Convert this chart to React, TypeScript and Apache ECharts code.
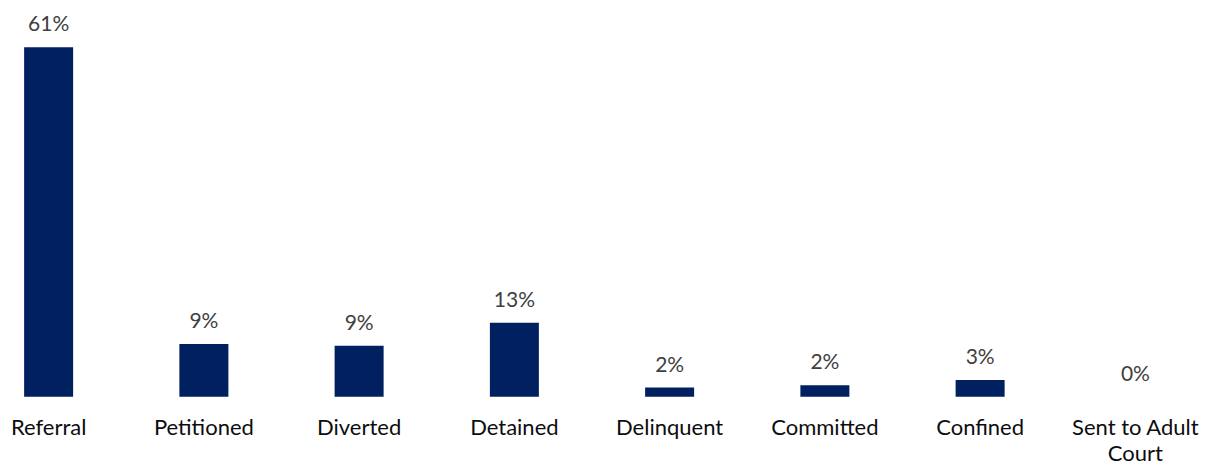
import React, { useEffect, useRef } from "react";
import * as echarts from "echarts";

const categories = [
  "Referral",
  "Petitioned",
  "Diverted",
  "Detained",
  "Delinquent",
  "Committed",
  "Confined",
  "Sent to Adult\nCourt",
];
const values = [61, 9.2, 8.9, 12.9, 1.6, 2.0, 2.9, 0];

export default function App() {
  const ref = useRef<HTMLDivElement>(null);
  useEffect(() => {
    document.body.style.margin = "0";
    const chart = echarts.init(ref.current!, null, { renderer: "svg" });
    chart.setOption({
      animation: false,
      grid: {
        left: -29,
        width: 1242,
        top: 24.3,
        bottom: 69.3,
        containLabel: false,
        outerBoundsMode: "none",
      },
      xAxis: {
        type: "category",
        data: categories,
        axisLine: { show: false },
        axisTick: { show: false },
        axisLabel: {
          interval: 0,
          color: "#0d0d0d",
          fontFamily: "Lato",
          fontSize: 22,
          lineHeight: 26,
          margin: 17,
        },
      },
      yAxis: {
        type: "value",
        min: 0,
        max: 65,
        show: false,
        splitLine: { show: false },
      },
      series: [
        {
          type: "bar",
          data: values,
          barWidth: 49,
          itemStyle: { color: "#002060" },
          label: {
            show: true,
            position: "top",
            distance: 14,
            color: "#404040",
            fontFamily: "Lato",
            fontSize: 21,
            formatter: (p: any) => Math.round(p.value) + "%",
          },
        },
      ],
    });
    return () => chart.dispose();
  }, []);
  return <div ref={ref} style={{ width: 1211, height: 466 }} />;
}
